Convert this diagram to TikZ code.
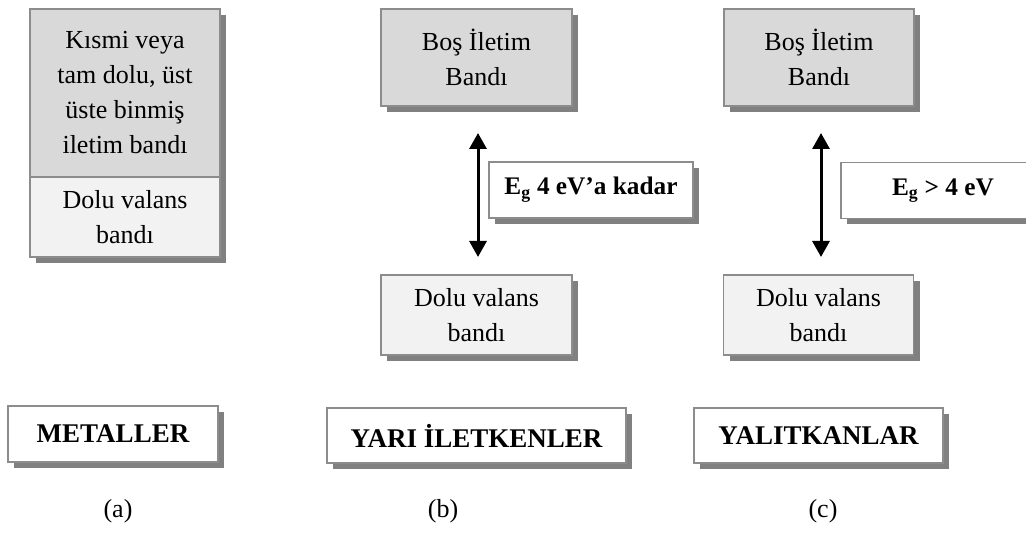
\documentclass[tikz,border=0pt]{standalone}
\usepackage{fontspec}
\setmainfont{Liberation Serif}
\usetikzlibrary{shadows,arrows.meta}
\definecolor{bordergray}{HTML}{8C8C8C}
\definecolor{shadowgray}{HTML}{808080}
\definecolor{darkfill}{HTML}{D9D9D9}
\definecolor{lightfill}{HTML}{F2F2F2}
\tikzset{
  box/.style={draw=bordergray, line width=1.8pt, rectangle, inner sep=0pt, align=center,
    font=\fontsize{26}{35}\selectfont,
    general shadow={fill=shadowgray, shadow xshift=6pt, shadow yshift=-6pt}},
  boxns/.style={draw=bordergray, line width=1.8pt, rectangle, inner sep=0pt, align=center,
    font=\fontsize{26}{35}\selectfont},
  cond/.style={box, fill=darkfill},
  val/.style={box, fill=lightfill},
  gapbox/.style={box, fill=white, font=\fontsize{25.3}{28}\selectfont\bfseries},
  namebox/.style={box, fill=white, font=\fontsize{27}{30}\selectfont\bfseries},
  caption/.style={inner sep=0pt, font=\fontsize{26}{30}\selectfont},
  gaparrow/.style={line width=3pt, {Triangle[width=17pt,length=16pt]}-{Triangle[width=17pt,length=16pt]}}
}
\begin{document}
\begin{tikzpicture}[x=1pt,y=-1pt]
\clip (0,0) rectangle (1026,534);
\fill[white] (0,0) rectangle (1026,534);
% (a) metals
\fill[shadowgray] (36,15) rectangle (226,263);
\node[boxns, fill=darkfill, minimum width=190pt, minimum height=168pt] (mtop) at (125,93)
  {Kısmi veya\\tam dolu, üst\\üste binmiş\\iletim bandı};
\node[boxns, fill=lightfill, minimum width=190pt, minimum height=80pt] (mbot) at (125,217)
  {Dolu valans\\bandı};
% (b) semiconductors
\node[cond, minimum width=191pt, minimum height=97pt] (btop) at (476.5,57.5) {Boş İletim\\Bandı};
\node[val, minimum width=191pt, minimum height=80pt] (bbot) at (476.5,315) {Dolu valans\\bandı};
\coordinate (barT) at (478,133);
\coordinate (barB) at (478,257);
\draw[gaparrow] (barT) -- (barB);
\node[gapbox, minimum width=204pt, minimum height=56pt] (beg) at (591,190) {E\textsubscript{g} 4 eV’a kadar};
% (c) insulators
\node[cond, minimum width=190pt, minimum height=97pt] (ctop) at (819,57.5) {Boş İletim\\Bandı};
\node[val, minimum width=190pt, minimum height=80pt] (cbot) at (818.5,315) {Dolu valans\\bandı};
\coordinate (carT) at (821,133);
\coordinate (carB) at (821,257);
\draw[gaparrow] (carT) -- (carB);
\node[gapbox, minimum width=204pt, minimum height=56pt] (ceg) at (943,190.5) {E\textsubscript{g} > 4 eV};
% names
\node[namebox, minimum width=210pt, minimum height=56pt] (nmet) at (113,434) {METALLER};
\node[namebox, minimum width=299pt, minimum height=55pt] (nsemi) at (476.5,435.5) {YARI İLETKENLER};
\node[namebox, minimum width=249pt, minimum height=55pt] (nins) at (818.5,435.5) {YALITKANLAR};
% captions
\node[caption] (capa) at (118,511) {(a)};
\node[caption] (capb) at (443,511) {(b)};
\node[caption] (capc) at (823,511) {(c)};
\end{tikzpicture}
\end{document}
